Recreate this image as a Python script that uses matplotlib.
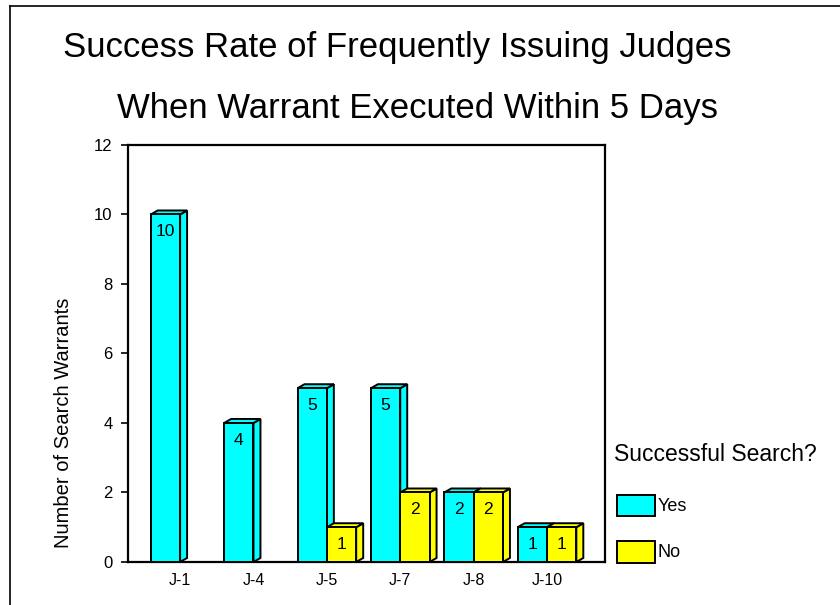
import numpy as np
import matplotlib.pyplot as plt
from matplotlib.patches import Polygon, Rectangle
from matplotlib.lines import Line2D

plt.rcParams['font.family'] = ['Liberation Sans', 'DejaVu Sans']

# data
judges = ["J-1", "J-4", "J-5", "J-7", "J-8", "J-10"]
yes_vals = [10, 4, 5, 5, 2, 1]
no_vals = [0, 0, 1, 2, 2, 1]

cyan = "#00FFFF"
yellow = "#FFFF00"

fig = plt.figure(figsize=(8.4, 6.05), dpi=100)
ax = fig.add_axes([0.1524, 0.0711, 0.5678, 0.6893])

w = 0.4          # bar width
dx, dy = 0.095, 0.115   # fake 3d depth

def bar3d(x, h, color, label_txt):
    if h <= 0:
        return
    left = x - w / 2
    ax.add_patch(Rectangle((left, 0), w, h, facecolor=color, edgecolor='black', lw=1.4, zorder=3))
    # side face
    side = [(left + w, 0), (left + w + dx, dy), (left + w + dx, h + dy), (left + w, h)]
    ax.add_patch(Polygon(side, closed=True, facecolor=color, edgecolor='black', lw=1.4, zorder=2))
    # top face
    top = [(left, h), (left + dx, h + dy), (left + w + dx, h + dy), (left + w, h)]
    ax.add_patch(Polygon(top, closed=True, facecolor=color, edgecolor='black', lw=1.4, zorder=2))
    ax.text(x, h - 0.5, label_txt, ha='center', va='center', fontsize=12.5, zorder=4)

xs = np.arange(len(judges))
for i in range(len(judges)):
    bar3d(xs[i] - w / 2, yes_vals[i], cyan, str(yes_vals[i]))
    bar3d(xs[i] + w / 2, no_vals[i], yellow, str(no_vals[i]))

ax.set_xlim(-0.71, 5.79)
ax.set_ylim(0, 12)
ax.set_yticks(range(0, 13, 2))
ax.set_xticks(xs)
ax.set_xticklabels(judges, fontsize=11.5)
ax.tick_params(axis='x', length=0, pad=8)
ax.tick_params(axis='y', length=5, width=1.2, labelsize=12, pad=6)
for s in ax.spines.values():
    s.set_linewidth(1.6)
ax.set_ylabel("Number of Search Warrants", fontsize=14.5)
ax.yaxis.set_label_coords(-0.115, 0.333)

# title
fig.text(0.4726, 0.9058, "Success Rate of Frequently Issuing Judges", ha='center', va='baseline', fontsize=25)
fig.text(0.4976, 0.805, "When Warrant Executed Within 5 Days", ha='center', va='baseline', fontsize=25)

# legend
fig.text(0.731, 0.248, "Successful Search?", ha='left', va='center', fontsize=16.5)
fig.add_artist(Rectangle((0.7345, 0.147), 0.0453, 0.035, transform=fig.transFigure,
                         facecolor=cyan, edgecolor='black', lw=1.4))
fig.text(0.783, 0.1636, "Yes", ha='left', va='center', fontsize=13)
fig.add_artist(Rectangle((0.7345, 0.0694), 0.0453, 0.0364, transform=fig.transFigure,
                         facecolor=yellow, edgecolor='black', lw=1.4))
fig.text(0.783, 0.0876, "No", ha='left', va='center', fontsize=13)

# outer frame (top and left only)
fig.add_artist(Line2D([0.012, 1.0], [0.990, 0.990], transform=fig.transFigure, color='black', lw=1.2))
fig.add_artist(Line2D([0.012, 0.012], [0.0, 0.990], transform=fig.transFigure, color='black', lw=1.2))

fig.savefig("out.png", dpi=100)
